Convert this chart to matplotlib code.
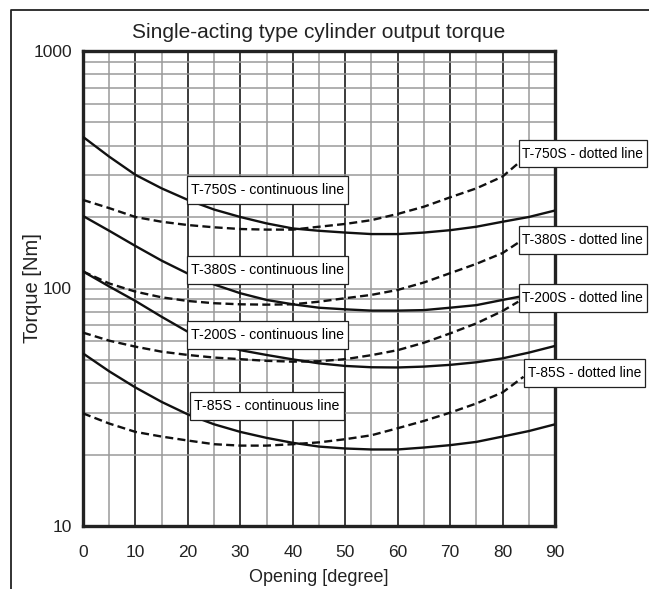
import numpy as np
import matplotlib
matplotlib.use("Agg")
import matplotlib.pyplot as plt
from matplotlib.ticker import MultipleLocator, FixedLocator, NullFormatter, FixedFormatter
from matplotlib.lines import Line2D
from matplotlib.path import Path

plt.rcParams['font.family'] = ['Liberation Sans', 'DejaVu Sans']

# opening angle in degrees
deg = [0, 5, 10, 15, 20, 25, 30, 35, 40, 45, 50, 55, 60, 65, 70, 75, 80, 85, 90]
# dotted curves stop at their label box
deg_dot = [0, 5, 10, 15, 20, 25, 30, 35, 40, 45, 50, 55, 60, 65, 70, 75, 80, 83]
deg_dot85 = [0, 5, 10, 15, 20, 25, 30, 35, 40, 45, 50, 55, 60, 65, 70, 75, 80, 84]

# torque [Nm], continuous lines
t750_cont = [435, 359, 301, 264, 236, 215, 200, 188, 179, 175, 172, 169.5, 169.5, 172, 176, 182, 191, 200, 213]
t380_cont = [202, 175, 151, 131, 115.5, 104, 95.5, 89.5, 85.8, 83, 81.7, 80.7, 80.7, 81.1, 83, 85.1, 89.5, 94, 99]
t200_cont = [118, 102, 88.6, 76, 65.7, 59.7, 55, 52.5, 50.3, 48.4, 47.2, 46.6, 46.5, 46.9, 47.7, 48.9, 50.8, 53.7, 57.3]
t85_cont = [53.3, 44.8, 38.3, 33.3, 29.5, 26.8, 24.9, 23.5, 22.4, 21.6, 21.2, 21.0, 21.0, 21.4, 21.9, 22.6, 23.8, 25.1, 26.8]

# torque [Nm], dotted lines
t750_dot = [236, 218, 200, 191, 185, 181, 178, 177, 177, 182, 187, 194, 206, 221, 242, 264, 296, 337]
t380_dot = [118, 105, 97, 91.8, 88.6, 86.7, 85.8, 85.5, 85.8, 88, 91, 94, 98.6, 106, 116, 127, 141, 156]
t200_dot = [65.2, 60.3, 56.9, 54.2, 52.5, 51.2, 50.4, 49.6, 49.2, 49.4, 50.4, 52.4, 55, 59.1, 64.7, 71.3, 80.4, 88]
t85_dot = [29.8, 27, 24.9, 23.8, 22.9, 22.1, 21.8, 21.8, 22.1, 22.5, 23.2, 24.1, 25.8, 27.7, 30, 32.8, 36.5, 42.5]

cont_labels = ['T-750S - continuous line', 'T-380S - continuous line',
               'T-200S - continuous line', 'T-85S - continuous line']
dot_labels = ['T-750S - dotted line', 'T-380S - dotted line',
              'T-200S - dotted line', 'T-85S - dotted line']


def label_box(x0, y0, width, height, mutation_size):
    # square box, more padding top/bottom than left/right
    px, py = 0.28 * mutation_size, 0.5 * mutation_size
    x0, y0 = x0 - px, y0 - py
    x1, y1 = x0 + width + 2 * px, y0 + height + 2 * py
    return Path([(x0, y0), (x1, y0), (x1, y1), (x0, y1), (x0, y0)], closed=True)


W, H = 649, 589
fig = plt.figure(figsize=(W / 100, H / 100), dpi=100)
ax = fig.add_axes([83 / W, 1 - 526 / H, (555 - 83) / W, (526 - 51) / H])

# outer frame (only left and top edge are in view)
fig.add_artist(Line2D([11 / W, 11 / W, 1], [0, 1 - 10 / H, 1 - 10 / H],
                      transform=fig.transFigure, color='#222222', lw=1.3))

ax.set_yscale('log')
ax.set_xlim(0, 90)
ax.set_ylim(10, 1000)

ax.xaxis.set_major_locator(MultipleLocator(10))
ax.xaxis.set_minor_locator(MultipleLocator(5))
ax.yaxis.set_major_locator(FixedLocator([10, 100, 1000]))
ax.yaxis.set_major_formatter(FixedFormatter(['10', '100', '1000']))
ax.yaxis.set_minor_locator(FixedLocator([v * m for m in (10, 100) for v in range(2, 10)]))
ax.yaxis.set_minor_formatter(NullFormatter())

ax.grid(which='minor', axis='x', color='#9a9a9a', lw=1.1)
ax.grid(which='major', axis='x', color='#1a1a1a', lw=1.2)
ax.grid(which='both', axis='y', color='#9a9a9a', lw=1.1)
ax.set_axisbelow(True)

ax.tick_params(which='both', length=0, labelsize=12.5, colors='#222222')
ax.tick_params(axis='x', pad=14)
ax.tick_params(axis='y', pad=8)
for s in ax.spines.values():
    s.set_linewidth(2.4)
    s.set_color('#222222')

for y in (t750_cont, t380_cont, t200_cont, t85_cont):
    ax.plot(deg, y, color='#111111', lw=1.7, solid_capstyle='butt', zorder=3)
for x, y in ((deg_dot, t750_dot), (deg_dot, t380_dot), (deg_dot, t200_dot), (deg_dot85, t85_dot)):
    ax.plot(x, y, color='#111111', lw=1.7, ls=(0, (3.4, 1.8)), zorder=3)

box = dict(boxstyle=label_box, fc='white', ec='#222222', lw=0.9)
cont_pos = [(35.1, 260), (35.1, 119.7), (35.1, 63.7), (35.1, 32.0)]
for (x, y), t in zip(cont_pos, cont_labels):
    ax.text(x, y, t, ha='center', va='center', fontsize=10.2,
            bbox=box, zorder=5)
dot_pos = [(83.8, 370), (83.8, 160.5), (83.8, 91.5), (84.8, 44)]
for (x, y), t in zip(dot_pos, dot_labels):
    ax.text(x, y, t, ha='left', va='center', fontsize=9.9,
            bbox=box, zorder=5, clip_on=False)

fig.text(319 / W, 1 - 32 / H, 'Single-acting type cylinder output torque',
         ha='center', va='center', fontsize=15, color='#222222')
fig.text(319 / W, 1 - 578 / H, 'Opening [degree]', ha='center', va='center',
         fontsize=13, color='#222222')
fig.text(33 / W, 1 - 288 / H, 'Torque [Nm]', ha='center', va='center',
         rotation=90, fontsize=14.5, color='#222222')

fig.savefig('out.png', dpi=100)
